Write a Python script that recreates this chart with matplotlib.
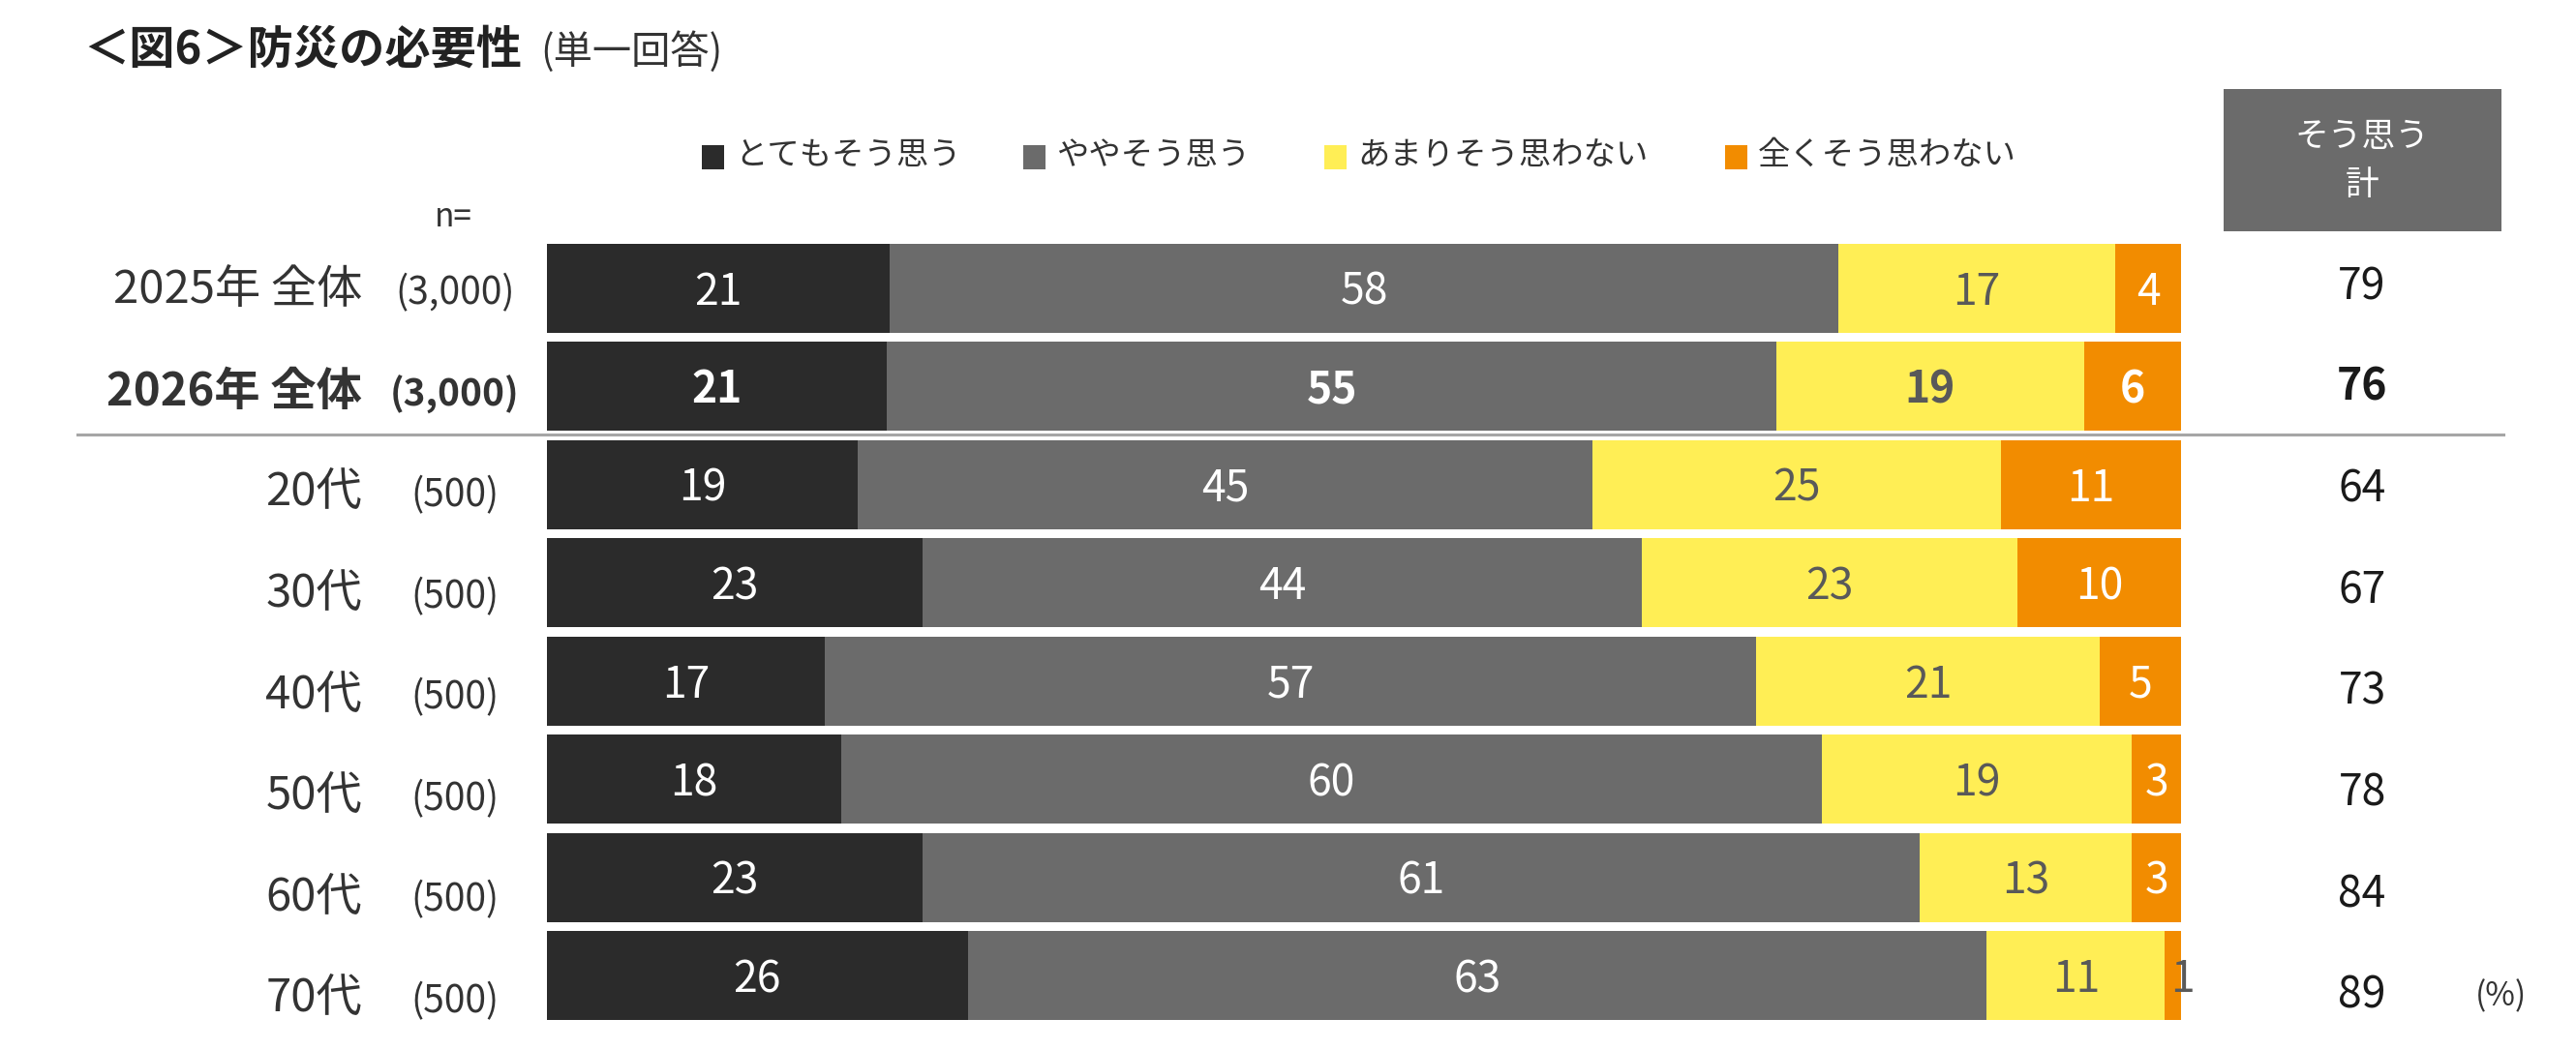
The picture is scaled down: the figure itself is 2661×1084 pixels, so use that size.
import matplotlib
matplotlib.use("Agg")
import matplotlib.pyplot as plt
from matplotlib.patches import Rectangle
from matplotlib.lines import Line2D
import numpy as np

plt.rcParams['font.family'] = ['Noto Sans CJK JP', 'DejaVu Sans']

# data
groups = ['2025年 全体', '2026年 全体', '20代', '30代', '40代', '50代', '60代', '70代']
counts = ['(3,000)', '(3,000)', '(500)', '(500)', '(500)', '(500)', '(500)', '(500)']
series = ['とてもそう思う', 'ややそう思う', 'あまりそう思わない', '全くそう思わない']
very = [21, 21, 19, 23, 17, 18, 23, 26]
somewhat = [58, 55, 45, 44, 57, 60, 61, 63]
not_much = [17, 19, 25, 23, 21, 19, 13, 11]
not_at_all = [4, 6, 11, 10, 5, 3, 3, 1]
agree_total = [79, 76, 64, 67, 73, 78, 84, 89]
bold_row = 1

colors = ['#2B2B2B', '#6B6B6B', '#FFEE55', '#F28C00']
text_colors = ['white', 'white', '#595959', 'white']

W, H = 2661, 1084
fig = plt.figure(figsize=(W / 100, H / 100), dpi=100)

def fx(px):
    return px / W

def fy(py):
    return 1 - py / H

bar_left, bar_right = 565, 2253
ax_top, ax_bot = 247, 1059
ax = fig.add_axes([fx(bar_left), fy(ax_bot), fx(bar_right - bar_left), (ax_bot - ax_top) / H])

data = np.array([very, somewhat, not_much, not_at_all], dtype=float)
share = data / data.sum(axis=0) * 100
y = np.arange(len(groups))
left = np.zeros(len(groups))
for k in range(4):
    ax.barh(y, share[k], left=left, height=0.906, color=colors[k], linewidth=0)
    for i in range(len(groups)):
        val = data[k, i]
        cx = left[i] + share[k, i] / 2
        col = text_colors[k]
        if val < 2:
            col = '#595959'
            cx = left[i] + share[k, i] + 0.1
        ax.text(cx, y[i] + 0.04, f'{int(val)}', ha='center', va='center', fontsize=32,
                color=col, fontweight='bold' if i == bold_row else 'normal')
    left += share[k]

ax.set_xlim(0, 100)
ax.set_ylim(len(groups) - 0.5, -0.5)
ax.axis('off')

# row labels and totals (their own spacing, a bit wider than the bars)
for i in range(len(groups)):
    wt = 'bold' if i == bold_row else 'normal'
    py = 300 + 104.6 * i
    fig.text(fx(374), fy(py), groups[i], ha='right', va='center',
             fontsize=34, color='#333333', fontweight=wt)
    fig.text(fx(470), fy(py + 3), counts[i], ha='center', va='center',
             fontsize=28, color='#333333', fontweight=wt)
    fig.text(fx(2440), fy(296 + 104.7 * i), f'{agree_total[i]}', ha='center', va='center',
             fontsize=32, color='#1A1A1A', fontweight=wt)

# n=
fig.text(fx(468), fy(225), 'n=', ha='center', va='center', fontsize=24, color='#333333')

# title
fig.text(fx(86), fy(52), '＜図6＞防災の必要性', ha='left', va='center', fontsize=34,
         fontweight='bold', color='#222222')
fig.text(fx(558), fy(54), '(単一回答)', ha='left', va='center', fontsize=29, color='#333333')

# legend
legend_x = [725, 1057, 1368, 1782]
for k in range(4):
    fig.patches.append(Rectangle((fx(legend_x[k]), fy(175)), fx(23), 25 / H,
                                 transform=fig.transFigure, color=colors[k], linewidth=0))
    fig.text(fx(legend_x[k] + 34), fy(160), series[k], ha='left', va='center',
             fontsize=24, color='#333333')

# header box for total column
fig.patches.append(Rectangle((fx(2297), fy(239)), fx(2584 - 2297), (239 - 92) / H,
                             transform=fig.transFigure, color='#6B6B6B', linewidth=0))
fig.text(fx(2440), fy(142), 'そう思う', ha='center', va='center', fontsize=25, color='white')
fig.text(fx(2440), fy(192), '計', ha='center', va='center', fontsize=25, color='white')

# separator between total rows and age rows
fig.add_artist(Line2D([fx(80), fx(2586)], [fy(449), fy(449)], color='#A6A6A6',
                      linewidth=2.2, transform=fig.transFigure))

fig.text(fx(2583), fy(1030), '(%)', ha='center', va='center', fontsize=24, color='#333333')

fig.savefig('out.png', dpi=100, facecolor='white')
